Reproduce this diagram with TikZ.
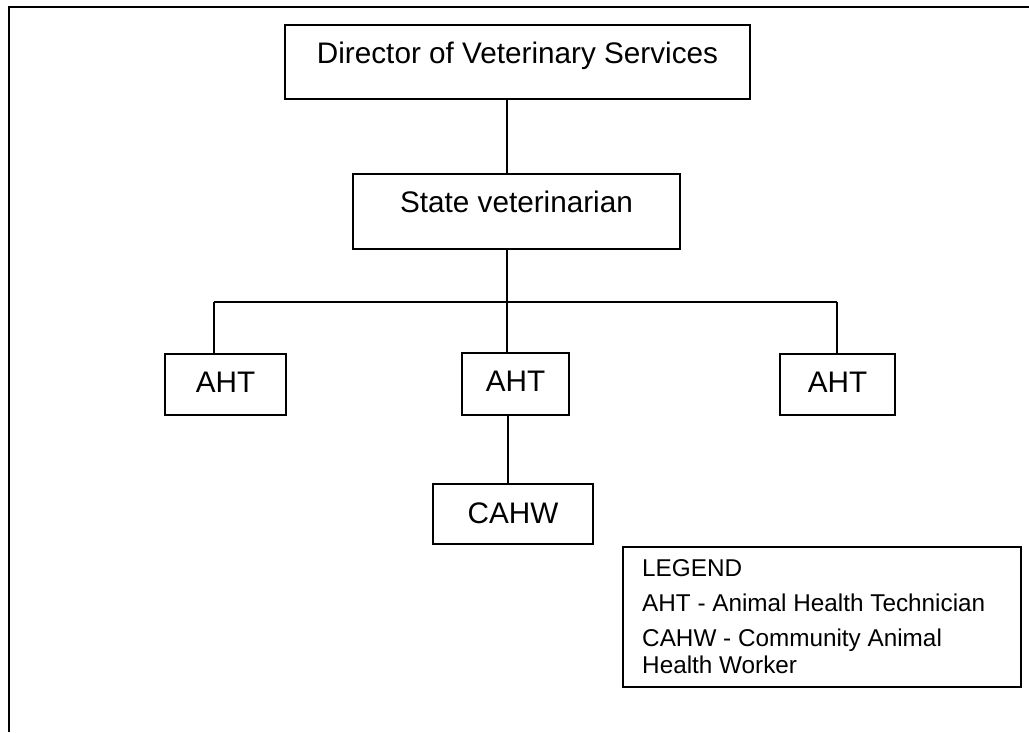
\documentclass[tikz,border=0pt]{standalone}
\usepackage{fontspec}
\setmainfont{Liberation Sans}
\begin{document}
\begin{tikzpicture}[x=1pt,y=-1pt,
  orgbox/.style={draw, line width=1.6pt, inner sep=0pt, anchor=north,
    font=\fontsize{29.7}{34}\selectfont},
  link/.style={line width=1.5pt},
  legline/.style={anchor=base west, inner sep=0pt, font=\fontsize{24.3}{28}\selectfont},
  frame/.style={line width=2pt}]
\useasboundingbox (0,0) rectangle (1029,732);
% outer frame
\coordinate (fr1) at (1029,7);
\coordinate (fr2) at (9,7);
\coordinate (fr3) at (9,732);
\draw[frame] (fr1) -- (fr2) -- (fr3);
% boxes
\node[orgbox, minimum width=465pt, text height=38.5pt, text depth=35.5pt] (dir) at (517.5,24) {Director of Veterinary Services};
\node[orgbox, minimum width=327pt, text height=39pt, text depth=36pt] (state) at (516.5,173) {State veterinarian};
\node[orgbox, minimum width=121pt, text height=39pt, text depth=22pt] (ahtL) at (225.5,353) {AHT};
\node[orgbox, minimum width=107pt, text height=39pt, text depth=23pt] (ahtM) at (515.5,352) {AHT};
\node[orgbox, minimum width=115pt, text height=39pt, text depth=22pt] (ahtR) at (837.5,353) {AHT};
\node[orgbox, minimum width=160pt, text height=40pt, text depth=20pt] (cahw) at (513,483) {CAHW};
% connectors
\coordinate (busL) at (214,302);
\coordinate (busR) at (837,302);
\draw[link] (dir.south -| 507,0) -- (state.north -| 507,0);
\draw[link] (state.south -| 507,0) -- (ahtM.north -| 507,0);
\draw[link] (busL) -- (busR);
\draw[link] (busL) -- (ahtL.north -| busL);
\draw[link] (busR) -- (ahtR.north -| busR);
\draw[link] (ahtM.south -| 508,0) -- (cahw.north -| 508,0);
% legend
\node[draw, line width=1.6pt, anchor=north west, inner sep=0pt, minimum width=398pt, minimum height=140pt] (legend) at (622,546) {};
\node[legline] (lg1) at (642,576) {LEGEND};
\node[legline] (lg2) at (642,611) {AHT - Animal Health Technician};
\node[legline] (lg3) at (642,646) {CAHW - Community Animal};
\node[legline] (lg4) at (642,673) {Health Worker};
\end{tikzpicture}
\end{document}
